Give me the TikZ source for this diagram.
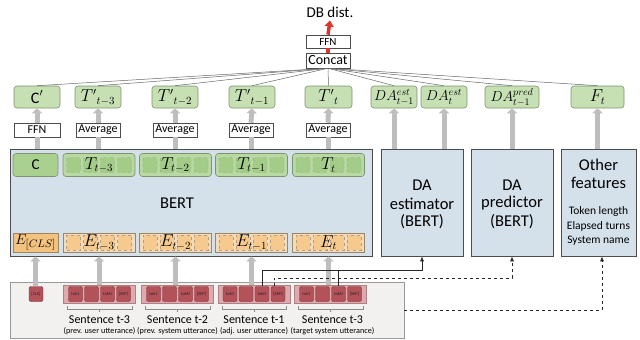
\documentclass[tikz,border=0pt]{standalone}
\usepackage{fontspec}
\setmainfont{Carlito}
\usetikzlibrary{arrows.meta,calc}
\definecolor{gfill}{HTML}{C6DFB3}
\definecolor{gline}{HTML}{7E9470}
\definecolor{gdark}{HTML}{A9D08F}
\definecolor{ggrp}{HTML}{B8D9A2}
\definecolor{gsq}{HTML}{A3CC88}
\definecolor{bertc}{HTML}{D5E1EA}
\definecolor{ofill}{HTML}{F3C27F}
\definecolor{obeige}{HTML}{F1DCBD}
\definecolor{osq}{HTML}{F6CA8F}
\definecolor{oline}{HTML}{A08660}
\definecolor{rtok}{HTML}{B4525A}
\definecolor{rline}{HTML}{7A2D33}
\definecolor{rgrp}{HTML}{DDAAAD}
\definecolor{panelc}{HTML}{F2F1EF}
\definecolor{arrg}{HTML}{BEBEBE}
\definecolor{redar}{HTML}{E0352C}
\tikzset{
  fsz/.style={font=\fontsize{#1}{#1}\selectfont},
  gtop/.style={draw=gline, fill=gfill, rounded corners=3pt, minimum height=22pt, inner sep=0pt, line width=0.6pt, fsz=16},
  wbox/.style={draw=black!70, fill=white, minimum height=14pt, inner sep=0pt, line width=0.5pt, fsz=12},
  bigbox/.style={draw=black!70, fill=bertc, line width=0.7pt, inner sep=0pt, minimum height=107pt},
  tgrp/.style={draw=gline, fill=ggrp, rounded corners=3pt, minimum height=23pt, minimum width=72pt, inner sep=0pt, line width=0.6pt},
  tsq/.style={draw=gline!80, dashed, fill=gsq, rounded corners=1.5pt, minimum width=14pt, minimum height=15pt, inner sep=0pt, line width=0.4pt},
  egrp/.style={draw=oline, fill=obeige, minimum height=19pt, minimum width=72pt, inner sep=0pt, line width=0.6pt},
  esq/.style={draw=oline!80, dashed, fill=osq, minimum width=14pt, minimum height=15pt, inner sep=0pt, line width=0.4pt},
  rgroup/.style={draw=rline!60, fill=rgrp, minimum height=18pt, minimum width=72pt, inner sep=0pt, line width=0.5pt},
  rtk/.style={draw=rline, fill=rtok, rounded corners=2pt, minimum width=14pt, minimum height=15pt, inner sep=0pt, line width=0.4pt, fsz=4.5, text=black!85},
  garr/.style={draw=arrg, line width=5pt, -{Triangle[width=10pt,length=5pt]}},
  gbar/.style={draw=arrg, line width=5pt},
  cline/.style={draw=black!60, line width=0.5pt},
  conn/.style={draw=black!85, line width=0.7pt, -{Latex[length=5pt,width=4pt]}},
  brk/.style={draw=black!45, line width=0.5pt},
  mathlbl/.style={fsz=16},
  big/.style={fsz=16.5},
  mid/.style={fsz=11.5},
  sent/.style={fsz=12},
  sub/.style={fsz=8.2},
}
\begin{document}
\begin{tikzpicture}[x=1pt,y=-1pt]
\useasboundingbox (0,0) rectangle (640,340);

% top: DB dist, FFN, Concat
\node[fsz=15, inner sep=1pt] (db) at (330,12) {DB dist.};
\node[wbox, minimum width=44pt, minimum height=13pt, fsz=11] (ffn2) at (328,41.5) {FFN};
\node[wbox, minimum width=44pt, minimum height=15pt, fsz=14] (concat) at (328,60.5) {Concat};
\draw[draw=redar, line width=3.5pt] (concat.north) -- (ffn2.south);
\draw[draw=redar, line width=3.5pt, -{Triangle[width=9pt,length=6pt]}] (ffn2.north) -- ($(db.south)+(0,2)$);

% green output nodes
\node[gtop, minimum width=46pt] (cp)  at (37,97)  {C$'$};
\node[gtop, minimum width=46pt] (tp3) at (98,97)  {$T'{}_{t-3}$};
\node[gtop, minimum width=46pt] (tp2) at (175,97) {$T'{}_{t-2}$};
\node[gtop, minimum width=46pt] (tp1) at (252,97) {$T'{}_{t-1}$};
\node[gtop, minimum width=47pt] (tp0) at (328.5,97) {$T'{}_{t}$};
\node[gtop, minimum width=46pt, fsz=14.5] (dae1) at (394,97) {$DA^{est}_{t-1}$};
\node[gtop, minimum width=46pt, fsz=14.5] (dae0) at (444,97) {$DA^{est}_{t}$};
\node[gtop, minimum width=54pt, fsz=14.5] (dap) at (512,97) {$DA^{pred}_{t-1}$};
\node[gtop, minimum width=53pt] (ft)  at (597.5,97) {$F_t$};

\foreach \n in {cp,tp3,tp2,tp1,tp0,dae1,dae0,dap,ft}
  \draw[cline] (concat.south) -- (\n.north);

% white boxes
\node[wbox, minimum width=46pt] (ffn1) at (37,130) {FFN};
\node[wbox, minimum width=44pt] (av3) at (98,130) {Average};
\node[wbox, minimum width=44pt] (av2) at (175,130) {Average};
\node[wbox, minimum width=44pt] (av1) at (251,130) {Average};
\node[wbox, minimum width=44pt] (av0) at (328,130) {Average};

% big boxes
\node[bigbox, minimum width=362pt] (bert) at (191,202.5) {};
\node[bigbox, minimum width=82pt] (daest) at (422,202.5) {};
\node[bigbox, minimum width=82pt] (dapred) at (512,202.5) {};
\node[bigbox, minimum width=75pt] (other) at (598.5,202.5) {};

\node[big] (bertlbl) at (177,203) {BERT};
\node[big] (de1) at (422,185) {DA};
\node[big] (de2) at (422,203.5) {estimator};
\node[big] (de3) at (422,222) {(BERT)};
\node[big] (dp1) at (512,185) {DA};
\node[big] (dp2) at (512,203.5) {predictor};
\node[big] (dp3) at (512,222) {(BERT)};
\node[big] (of1) at (598.5,165) {Other};
\node[big] (of2) at (598.5,183) {features};
\node[mid] (of3) at (598.5,211) {Token length};
\node[mid] (of4) at (598.5,226) {Elapsed turns};
\node[mid] (of5) at (598.5,241) {System name};

% BERT inner top row
\node[tgrp, minimum width=45pt, fill=gdark, fsz=15] (cc) at (35.5,165) {C};
\node[tgrp] (tg3) at (99,165) {};
\node[tgrp] (tg2) at (175.5,165) {};
\node[tgrp] (tg1) at (251.5,165) {};
\node[tgrp] (tg0) at (328.5,165) {};
\foreach \g in {tg3,tg2,tg1,tg0}
  \foreach \d in {-25.5,-8.5,8.5,25.5}
    \node[tsq] at ($(\g)+(\d,0)$) {};
\node[mathlbl] at (tg3) {$T_{t-3}$};
\node[mathlbl] at (tg2) {$T_{t-2}$};
\node[mathlbl] at (tg1) {$T_{t-1}$};
\node[mathlbl] at (tg0) {$T_{t}$};

% BERT inner bottom row
\node[egrp, minimum width=45pt, fill=ofill, fsz=15] (ecls) at (35.5,242.5) {$E_{[CLS]}$};
\node[egrp] (eg3) at (99,242.5) {};
\node[egrp] (eg2) at (175.5,242.5) {};
\node[egrp] (eg1) at (251.5,242.5) {};
\node[egrp] (eg0) at (328.5,242.5) {};
\foreach \g in {eg3,eg2,eg1,eg0}
  \foreach \d in {-25.5,-8.5,8.5,25.5}
    \node[esq] at ($(\g)+(\d,0)$) {};
\node[mathlbl] at (eg3) {$E_{t-3}$};
\node[mathlbl] at (eg2) {$E_{t-2}$};
\node[mathlbl] at (eg1) {$E_{t-1}$};
\node[mathlbl] at (eg0) {$E_{t}$};

% gray arrows upper
\foreach \w/\t in {ffn1/cp,av3/tp3,av2/tp2,av1/tp1,av0/tp0}{
  \draw[gbar] (\w.south) -- (\w.south |- bert.north);
  \draw[garr] (\w.north) -- (\t.south);
}
\draw[garr] (dae1.south |- daest.north) -- (dae1.south);
\draw[garr] (dae0.south |- daest.north) -- (dae0.south);
\draw[garr] (dap.south |- dapred.north) -- (dap.south);
\draw[garr] (ft.south |- other.north) -- (ft.south);

% bottom panel
\node[draw=black!40, fill=panelc, minimum width=394pt, minimum height=56pt, inner sep=0pt, line width=0.6pt] (panel) at (207,310) {};
\node[rtk] (cls) at (36,294) {[CLS]};
\node[rgroup] (g3) at (99.5,294) {};
\node[rgroup] (g2) at (177.5,294) {};
\node[rgroup] (g1) at (254,294) {};
\node[rgroup] (g0) at (330.5,294) {};
\foreach \g in {g3,g2,g1,g0}{
  \node[rtk] (\g a) at ($(\g)+(-24,0)$) {tok1};
  \node[rtk] (\g b) at ($(\g)+(-8,0)$) {};
  \node[rtk] (\g n) at ($(\g)+(8,0)$) {tokN};
  \node[rtk] (\g s) at ($(\g)+(24,0)$) {[SEP]};
  \draw[brk] ($(\g.south west)+(4,3)$) -- ++(0,3) -| ($(\g.south east)+(-4,3)$);
  \draw[brk] ($(\g.south)+(0,6)$) -- ++(0,3);
}
\node[sent] (s3) at ($(g3.south)+(0,16)$) {Sentence t-3};
\node[sub] (u3) at ($(g3.south)+(0,28)$) {(prev. user utterance)};
\node[sent] (s2) at ($(g2.south)+(0,16)$) {Sentence t-2};
\node[sub] (u2) at ($(g2.south)+(0,28)$) {(prev. system utterance)};
\node[sent] (s1) at ($(g1.south)+(0,16)$) {Sentence t-1};
\node[sub] (u1) at ($(g1.south)+(0,28)$) {(adj. user utterance)};
\node[sent] (s0) at ($(g0.south)+(2,16)$) {Sentence t-3};
\node[sub] (u0) at ($(g0.south)+(2,28)$) {(target system utterance)};

% gray arrows bottom
\draw[garr] (ecls.south |- cls.north) -- (ecls.south |- bert.south);
\foreach \g/\e in {g3/eg3,g2/eg2,g1/eg1,g0/eg0}
  \draw[garr] (\e.south |- \g.north) -- (\e.south |- bert.south);

% connectors
\coordinate (j1) at (422,270);
\coordinate (j2) at (512,278);
\coordinate (j3) at (602,310);
\draw[conn] (g1n.north) |- (j1) -- (daest.south);
\draw[draw=black!85, line width=0.7pt] (g0n.north) -- (g0n.north |- j1);
\draw[conn, dashed] ($(g1s.north)+(-4,0)$) |- (j2) -- (dapred.south);
\draw[conn, dashed] (panel.east |- j3) -- (j3) -- (j3 |- other.south);
\end{tikzpicture}
\end{document}
